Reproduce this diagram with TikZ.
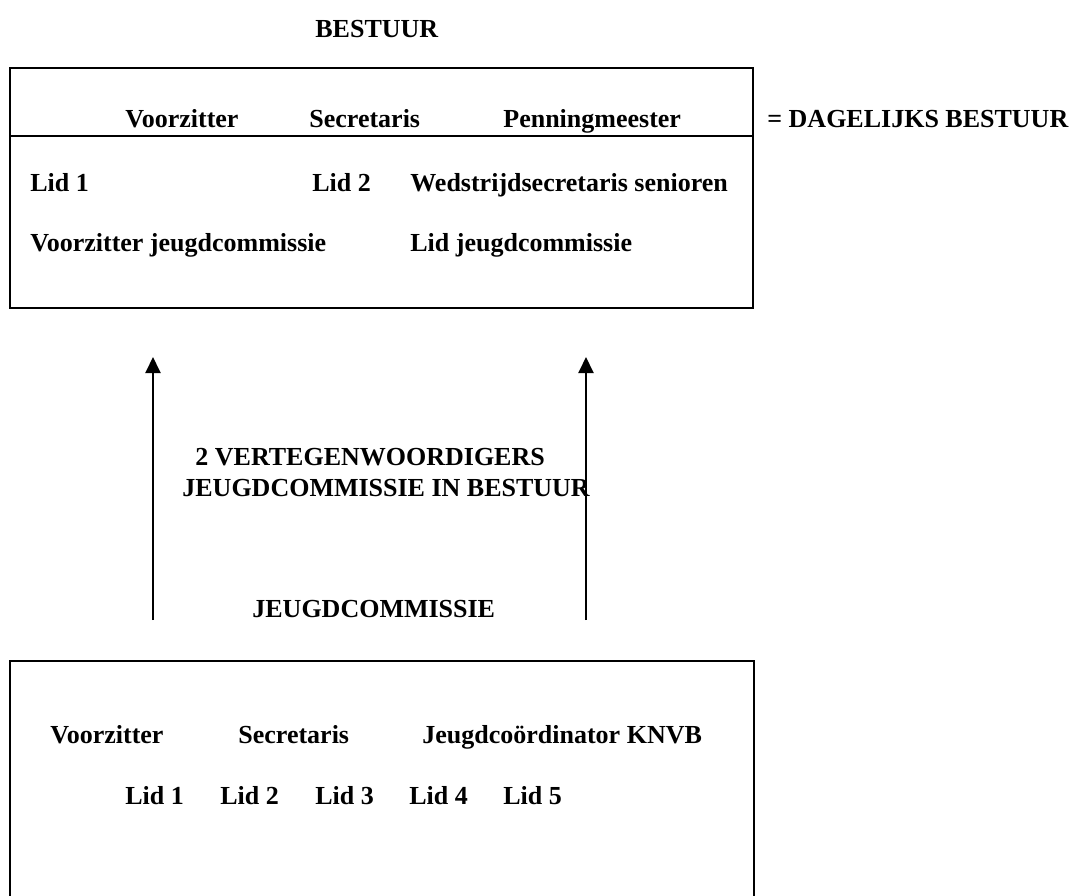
\documentclass[tikz,border=0pt]{standalone}
\usepackage{fontspec}
\setmainfont{Liberation Serif}
\usetikzlibrary{arrows.meta}
\begin{document}
\begin{tikzpicture}[x=0.5pt,y=-0.5pt,
  lbl/.style={anchor=base west,inner sep=0pt,font=\fontsize{13}{15}\selectfont\bfseries},
  frame/.style={line width=1pt},
  up/.style={line width=1pt,-{Triangle[width=7.5pt,length=8pt]}}]
\useasboundingbox (0,0) rectangle (1077,895);
% title
\node[lbl] (tbestuur) at (315,37) {BESTUUR};
% top box
\draw[frame] (10,68) rectangle (753,308);
\draw[frame] (10,136) -- (753,136);
\node[lbl] (tvz) at (125,127) {Voorzitter};
\node[lbl] (tsec) at (309,127) {Secretaris};
\node[lbl] (tpen) at (503,127) {Penningmeester};
\node[lbl] (tdb) at (767,127) {= DAGELIJKS BESTUUR};
\node[lbl] (tl1) at (30,191) {Lid 1};
\node[lbl] (tl2) at (312,191) {Lid 2};
\node[lbl] (twed) at (410,191) {Wedstrijdsecretaris senioren};
\node[lbl] (tvjc) at (30,251) {Voorzitter jeugdcommissie};
\node[lbl] (tljc) at (410,251) {Lid jeugdcommissie};
% arrows
\coordinate (a1s) at (153,620);
\coordinate (a1e) at (153,357);
\coordinate (a2s) at (586,620);
\coordinate (a2e) at (586,357);
\draw[up] (a1s) -- (a1e);
\draw[up] (a2s) -- (a2e);
\node[lbl] (mid1) at (195,465) {2 VERTEGENWOORDIGERS};
\node[lbl] (mid2) at (182,496) {JEUGDCOMMISSIE IN BESTUUR};
\node[lbl] (jc) at (252,617) {JEUGDCOMMISSIE};
% bottom box
\draw[frame] (10,900) -- (10,661) -- (754,661) -- (754,900);
\node[lbl] (bvz) at (50,743) {Voorzitter};
\node[lbl] (bsec) at (238,743) {Secretaris};
\node[lbl] (bjc) at (422,743) {Jeugdcoördinator KNVB};
\node[lbl] (bl1) at (125,804) {Lid 1};
\node[lbl] (bl2) at (220,804) {Lid 2};
\node[lbl] (bl3) at (315,804) {Lid 3};
\node[lbl] (bl4) at (409,804) {Lid 4};
\node[lbl] (bl5) at (503,804) {Lid 5};
\end{tikzpicture}
\end{document}
